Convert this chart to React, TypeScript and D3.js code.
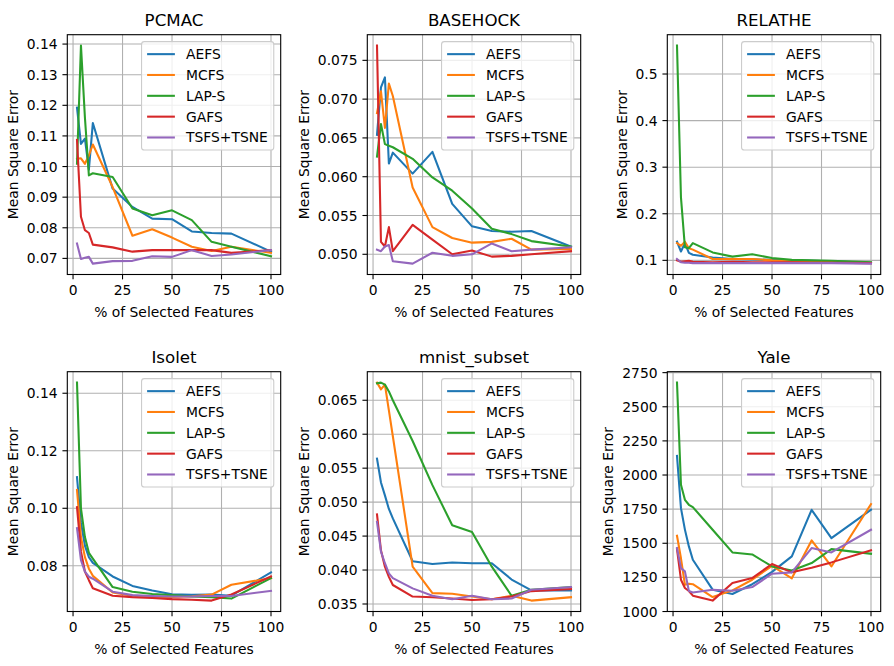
import * as d3 from "d3";

const X_PCT = [2, 4, 6, 8, 10, 20, 30, 40, 50, 60, 70, 80, 100];
const X_TICKS = [0, 25, 50, 75, 100];
const METHODS = ["AEFS", "MCFS", "LAP-S", "GAFS", "TSFS+TSNE"];
const COLORS = ["#1f77b4", "#ff7f0e", "#2ca02c", "#d62728", "#9467bd"];

// PCMAC
const PCMAC_AEFS = [0.1192, 0.1074, 0.1091, 0.099, 0.1142, 0.0928, 0.0868, 0.083, 0.0828, 0.0788, 0.0783, 0.0781, 0.0722];
const PCMAC_MCFS = [0.1025, 0.1027, 0.1009, 0.1036, 0.1072, 0.0933, 0.0774, 0.0795, 0.0768, 0.0738, 0.0724, 0.0738, 0.0718];
const PCMAC_LAPS = [0.1009, 0.1395, 0.116, 0.0971, 0.0978, 0.0966, 0.0863, 0.0841, 0.0857, 0.0825, 0.0754, 0.0738, 0.0707];
const PCMAC_GAFS = [0.1087, 0.0836, 0.0792, 0.0783, 0.0745, 0.0736, 0.0722, 0.0727, 0.0727, 0.0727, 0.0727, 0.0718, 0.0727];
const PCMAC_TSFS = [0.0749, 0.0698, 0.0702, 0.0705, 0.0683, 0.0691, 0.0692, 0.0707, 0.0705, 0.0727, 0.0708, 0.0713, 0.0727];
const PCMAC_TICKS = [0.07, 0.08, 0.09, 0.1, 0.11, 0.12, 0.13, 0.14];

// BASEHOCK
const BASE_AEFS = [0.0654, 0.0715, 0.0728, 0.0617, 0.0631, 0.0604, 0.0632, 0.0565, 0.0536, 0.053, 0.0529, 0.053, 0.051];
const BASE_MCFS = [0.0682, 0.071, 0.0663, 0.072, 0.0704, 0.0586, 0.0535, 0.0521, 0.0515, 0.0516, 0.052, 0.0506, 0.0507];
const BASE_LAPS = [0.0626, 0.0668, 0.0642, 0.064, 0.0638, 0.0623, 0.0599, 0.0582, 0.0559, 0.0533, 0.0526, 0.0517, 0.051];
const BASE_GAFS = [0.0769, 0.0516, 0.051, 0.0535, 0.0504, 0.0538, 0.0519, 0.05, 0.0505, 0.0497, 0.0498, 0.05, 0.0504];
const BASE_TSFS = [0.0506, 0.0504, 0.051, 0.0512, 0.0491, 0.0488, 0.0502, 0.0498, 0.05, 0.0514, 0.0504, 0.0506, 0.0509];
const BASE_TICKS = [0.05, 0.055, 0.06, 0.065, 0.07, 0.075];

// RELATHE
const REL_AEFS = [0.14, 0.119, 0.137, 0.116, 0.112, 0.106, 0.103, 0.102, 0.101, 0.1, 0.099, 0.098, 0.095];
const REL_MCFS = [0.137, 0.131, 0.14, 0.126, 0.123, 0.103, 0.103, 0.103, 0.1, 0.099, 0.098, 0.097, 0.095];
const REL_LAPS = [0.561, 0.235, 0.128, 0.126, 0.137, 0.117, 0.108, 0.113, 0.105, 0.101, 0.1, 0.099, 0.096];
const REL_GAFS = [0.1, 0.097, 0.098, 0.099, 0.097, 0.096, 0.097, 0.096, 0.096, 0.096, 0.095, 0.095, 0.094];
const REL_TSFS = [0.103, 0.096, 0.095, 0.095, 0.094, 0.094, 0.094, 0.094, 0.094, 0.094, 0.094, 0.094, 0.093];
const REL_TICKS = [0.1, 0.2, 0.3, 0.4, 0.5];

// Isolet
const ISO_AEFS = [0.1108, 0.095, 0.087, 0.083, 0.081, 0.0763, 0.073, 0.0714, 0.0701, 0.0699, 0.07, 0.0696, 0.0777];
const ISO_MCFS = [0.1064, 0.09, 0.083, 0.079, 0.0765, 0.0707, 0.0696, 0.0691, 0.0692, 0.0694, 0.07, 0.0734, 0.0757];
const ISO_LAPS = [0.1437, 0.1, 0.09, 0.0845, 0.0825, 0.0726, 0.071, 0.0702, 0.0698, 0.0693, 0.0691, 0.0686, 0.0757];
const ISO_GAFS = [0.1004, 0.085, 0.078, 0.075, 0.0722, 0.0696, 0.0691, 0.0688, 0.0684, 0.0682, 0.0679, 0.07, 0.0763];
const ISO_TSFS = [0.0931, 0.082, 0.078, 0.0762, 0.0755, 0.071, 0.0698, 0.0695, 0.0693, 0.0693, 0.0695, 0.0695, 0.0713];
const ISO_TICKS = [0.08, 0.1, 0.12, 0.14];

// mnist_subset
const MN_AEFS = [0.0564, 0.0529, 0.051, 0.049, 0.0476, 0.0413, 0.0409, 0.0411, 0.041, 0.041, 0.0386, 0.037, 0.037];
const MN_MCFS = [0.0676, 0.0666, 0.0673, 0.0635, 0.0597, 0.0405, 0.0366, 0.0365, 0.0361, 0.0357, 0.0362, 0.0355, 0.036];
const MN_LAPS = [0.0675, 0.0676, 0.0673, 0.0663, 0.065, 0.059, 0.0525, 0.0466, 0.0456, 0.0405, 0.0362, 0.0371, 0.0375];
const MN_GAFS = [0.0482, 0.0429, 0.0405, 0.039, 0.0378, 0.0361, 0.036, 0.0358, 0.0356, 0.0357, 0.0361, 0.0369, 0.0372];
const MN_TSFS = [0.0471, 0.0427, 0.041, 0.0395, 0.0388, 0.0373, 0.0362, 0.0357, 0.0362, 0.0357, 0.0358, 0.0371, 0.0375];
const MN_TICKS = [0.035, 0.04, 0.045, 0.05, 0.055, 0.06, 0.065];

// Yale
const YALE_AEFS = [2140, 1757, 1600, 1477, 1379, 1160, 1128, 1200, 1290, 1404, 1745, 1538, 1745];
const YALE_MCFS = [1555, 1390, 1196, 1204, 1200, 1106, 1155, 1233, 1335, 1243, 1521, 1330, 1787];
const YALE_LAPS = [2677, 1928, 1818, 1782, 1765, 1599, 1433, 1418, 1330, 1301, 1355, 1457, 1423];
const YALE_GAFS = [1457, 1233, 1172, 1150, 1116, 1080, 1209, 1245, 1348, 1287, 1320, 1360, 1448];
const YALE_TSFS = [1465, 1318, 1294, 1150, 1140, 1160, 1152, 1179, 1277, 1287, 1465, 1433, 1599];
const YALE_TICKS = [1000, 1250, 1500, 1750, 2000, 2250, 2500, 2750];

const PANELS = [
  { title: "PCMAC", series: [PCMAC_AEFS, PCMAC_MCFS, PCMAC_LAPS, PCMAC_GAFS, PCMAC_TSFS], ticks: PCMAC_TICKS, digits: 2 },
  { title: "BASEHOCK", series: [BASE_AEFS, BASE_MCFS, BASE_LAPS, BASE_GAFS, BASE_TSFS], ticks: BASE_TICKS, digits: 3 },
  { title: "RELATHE", series: [REL_AEFS, REL_MCFS, REL_LAPS, REL_GAFS, REL_TSFS], ticks: REL_TICKS, digits: 1 },
  { title: "Isolet", series: [ISO_AEFS, ISO_MCFS, ISO_LAPS, ISO_GAFS, ISO_TSFS], ticks: ISO_TICKS, digits: 2 },
  { title: "mnist_subset", series: [MN_AEFS, MN_MCFS, MN_LAPS, MN_GAFS, MN_TSFS], ticks: MN_TICKS, digits: 3 },
  { title: "Yale", series: [YALE_AEFS, YALE_MCFS, YALE_LAPS, YALE_GAFS, YALE_TSFS], ticks: YALE_TICKS, digits: 0 },
];

const FONT = "DejaVu Sans, sans-serif";
const FS = 13.89;
const W = 894;
const H = 666;
const COL_X = [67.3, 367.3, 667.3];
const ROW_Y = [34.7, 371.7];
const AX_W = 213.4;
const AX_H = 239.8;
const TICK = 4.86;

// rough DejaVu Sans widths for tick labels
function labelWidth(s: string) {
  let w = 0;
  for (const c of s) w += c === "." ? 0.318 : 0.636;
  return w * FS;
}

function Panel({ panel, left, top }: { panel: (typeof PANELS)[number]; left: number; top: number }) {
  const bottom = top + AX_H;
  const right = left + AX_W;
  const xm = (100 - 2) * 0.05;
  const x = d3.scaleLinear().domain([2 - xm, 100 + xm]).range([left, right]);
  const [lo, hi] = d3.extent(panel.series.flat()) as [number, number];
  const m = (hi - lo) * 0.05;
  const y = d3.scaleLinear().domain([lo - m, hi + m]).range([bottom, top]);
  const line = d3
    .line<number>()
    .x((_, i) => x(X_PCT[i]))
    .y((d) => y(d));

  const yTicks = panel.ticks.filter((t) => y(t) >= top - 0.5 && y(t) <= bottom + 0.5);
  const fmt = (t: number) => t.toFixed(panel.digits);
  const maxW = d3.max(yTicks, (t) => labelWidth(fmt(t))) ?? 30;
  const yLabelX = left - 2 * TICK - maxW - 5.56 - 3.2;

  const legRight = right - 0.5 * FS;
  const legTop = top + 0.5 * FS;
  const legW = 0.4 * FS * 2 + 2 * FS + 0.8 * FS + 82.2;
  const rowH = FS * 1.5;
  const legH = 0.8 * FS + 5 * FS + 4 * 0.5 * FS;
  const legLeft = legRight - legW;

  return (
    <g>
      {X_TICKS.map((t) => (
        <line key={"gx" + t} x1={x(t)} x2={x(t)} y1={top} y2={bottom} stroke="#b0b0b0" strokeWidth={1.1} />
      ))}
      {yTicks.map((t) => (
        <line key={"gy" + t} x1={left} x2={right} y1={y(t)} y2={y(t)} stroke="#b0b0b0" strokeWidth={1.1} />
      ))}
      {panel.series.map((s, i) => (
        <path key={METHODS[i]} d={line(s) ?? ""} fill="none" stroke={COLORS[i]} strokeWidth={2.08} strokeLinejoin="round" strokeLinecap="square" />
      ))}
      <rect x={left} y={top} width={AX_W} height={AX_H} fill="none" stroke="#000" strokeWidth={1.1} />
      {X_TICKS.map((t) => (
        <g key={"tx" + t}>
          <line x1={x(t)} x2={x(t)} y1={bottom} y2={bottom + TICK} stroke="#000" strokeWidth={1.1} />
          <text x={x(t)} y={bottom + 2 * TICK + 10.6} textAnchor="middle" fontSize={FS} fontFamily={FONT}>
            {t}
          </text>
        </g>
      ))}
      {yTicks.map((t) => (
        <g key={"ty" + t}>
          <line x1={left - TICK} x2={left} y1={y(t)} y2={y(t)} stroke="#000" strokeWidth={1.1} />
          <text x={left - 2 * TICK} y={y(t)} dy="0.36em" textAnchor="end" fontSize={FS} fontFamily={FONT}>
            {fmt(t)}
          </text>
        </g>
      ))}
      <text x={(left + right) / 2} y={top - 8.33} textAnchor="middle" fontSize={16.67} fontFamily={FONT}>
        {panel.title}
      </text>
      <text x={(left + right) / 2} y={bottom + 2 * TICK + 16.2 + 5.56 + 10.6} textAnchor="middle" fontSize={FS} fontFamily={FONT}>
        % of Selected Features
      </text>
      <text
        transform={`translate(${yLabelX},${(top + bottom) / 2}) rotate(-90)`}
        textAnchor="middle"
        fontSize={FS}
        fontFamily={FONT}
      >
        Mean Square Error
      </text>
      <g>
        <rect x={legLeft} y={legTop} width={legW} height={legH} rx={2.8} fill="#fff" fillOpacity={0.8} stroke="#cccccc" strokeWidth={1.1} />
        {METHODS.map((name, i) => {
          const cy = legTop + 0.4 * FS + FS / 2 + i * rowH;
          const hx = legLeft + 0.4 * FS;
          return (
            <g key={name}>
              <line x1={hx} x2={hx + 2 * FS} y1={cy} y2={cy} stroke={COLORS[i]} strokeWidth={2.08} />
              <text x={hx + 2.8 * FS} y={cy} dy="0.36em" fontSize={FS} fontFamily={FONT}>
                {name}
              </text>
            </g>
          );
        })}
      </g>
    </g>
  );
}

export default function App() {
  return (
    <svg width={W} height={H} style={{ position: "absolute", left: 0, top: 0, background: "#fff" }}>
      <rect width={W} height={H} fill="#fff" />
      {PANELS.map((p, i) => (
        <Panel key={p.title} panel={p} left={COL_X[i % 3]} top={ROW_Y[Math.floor(i / 3)]} />
      ))}
    </svg>
  );
}
